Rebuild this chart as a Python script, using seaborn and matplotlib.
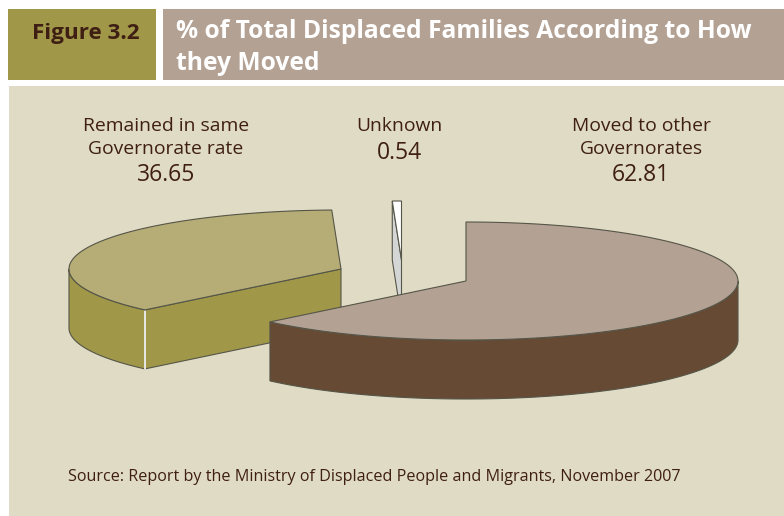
import numpy as np
import matplotlib
matplotlib.use('Agg')
import matplotlib.pyplot as plt
from matplotlib.patches import Polygon, Rectangle
import seaborn as sns

# Data
categorias = ['Moved to other\nGovernorates', 'Remained in same\nGovernorate rate', 'Unknown']
valores = [62.81, 36.65, 0.54]

# Layout (pixels of the 784x516 picture)
raio_x, raio_y, altura = 272, 59, 59
centros = [(466, 281), (341, 269), (401.5, 260)]
pos_textos = [(641, 126), (166, 126), (399, 126)]
cor_topo = ['#B3A194', '#B5AD75', '#FFFFFF']
cor_lado = ['#664A33', '#A09848', '#D4D6D6']
cor_linha = '#555548'
cor_texto = '#3F1F14'
fonte = 'Open Sans'

sns.set_theme(style='white')
plt.rcParams['font.family'] = [fonte, 'DejaVu Sans']

fig = plt.figure(figsize=(7.84, 5.16), dpi=100)
ax = fig.add_axes([0, 0, 1, 1])
ax.set_xlim(0, 784)
ax.set_ylim(516, 0)
ax.axis('off')
sns.despine(ax=ax, left=True, bottom=True)

# Fundo e cabecalho
ax.add_patch(Rectangle((9, 86), 775, 430, color='#E0DBC4', lw=0))
ax.add_patch(Rectangle((8, 9), 148, 71, color='#A09848', lw=0))
ax.add_patch(Rectangle((163, 9), 621, 71, color='#B3A194', lw=0))
ax.text(86, 33, 'Figure 3.2', fontsize=16.2, fontweight='bold', color=cor_texto, ha='center', va='center')
ax.text(176, 32, '% of Total Displaced Families According to How', fontsize=17.7, fontweight='bold', color='white', va='center')
ax.text(176, 63, 'they Moved', fontsize=17.7, fontweight='bold', color='white', va='center')


def borda(centro, t0, t1):
    # Pontos do arco da elipse, angulo em graus a partir do topo, sentido horario
    t = np.radians(np.linspace(t0, t1, 120))
    return np.column_stack([centro[0] + raio_x * np.sin(t), centro[1] - raio_y * np.cos(t)])


def desce(pontos):
    return pontos + np.array([0, altura])


# Angulos a partir dos valores
fim = np.cumsum(valores) / np.sum(valores) * 360
inicio = np.concatenate([[0], fim[:-1]])

# Ordem de desenho: Unknown, Remained, Moved
for i in [2, 1, 0]:
    c = np.array(centros[i], dtype=float)
    t0, t1 = inicio[i], fim[i]
    arco = borda(c, t0, t1)

    # Parede externa visivel (parte da frente, de 90 a 270 graus)
    a, b = max(t0, 90), min(t1, 270)
    if a < b:
        parede = borda(c, a, b)
        ax.add_patch(Polygon(np.vstack([parede, desce(parede)[::-1]]), fc=cor_lado[i], ec=cor_linha, lw=0.8, zorder=2 + (2 - i)))

    # Faces de corte visiveis
    if i == 1:
        canto = arco[0:1]
        ax.add_patch(Polygon(np.vstack([c[None], canto, desce(canto), desce(c[None])]), fc=cor_lado[i], ec=cor_linha, lw=0.8, zorder=2 + (2 - i)))
        ax.plot([canto[0, 0]] * 2, [canto[0, 1] + 1, canto[0, 1] + altura], color='white', lw=1.2, zorder=3.5)
    if i == 2:
        canto = arco[0:1]
        ax.add_patch(Polygon(np.vstack([canto, c[None], desce(c[None]), desce(canto)]), fc=cor_lado[i], ec=cor_linha, lw=0.8, zorder=2 + (2 - i)))

    # Topo da fatia
    ax.add_patch(Polygon(np.vstack([c[None], arco]), fc=cor_topo[i], ec=cor_linha, lw=0.8, zorder=2.5 + (2 - i)))

# Rotulos
for nome, valor, (x, y) in zip(categorias, valores, pos_textos):
    linhas = nome.split('\n')
    for j, linha in enumerate(linhas):
        ax.text(x, y + j * 22.5, linha, fontsize=13.9, color=cor_texto, ha='center', va='center')
    passo = 27 if len(linhas) == 1 else 49
    ax.text(x, y + passo, f'{valor:.2f}', fontsize=16.5, color=cor_texto, ha='center', va='center')

ax.text(68, 477, 'Source: Report by the Ministry of Displaced People and Migrants, November 2007',
        fontsize=11.6, color=cor_texto, va='center')

fig.savefig('out.png', dpi=100)
